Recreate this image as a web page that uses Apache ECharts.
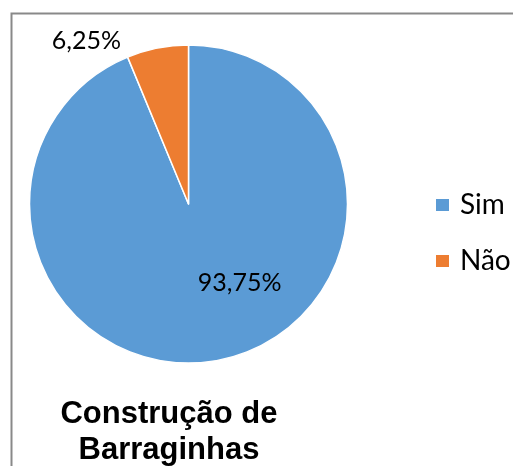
<!DOCTYPE html>
<html>
<head>
<meta charset="utf-8">
<script src="https://cdn.jsdelivr.net/npm/echarts@6/dist/echarts.min.js"></script>
<style>
  html, body { margin: 0; padding: 0; background: #fff; }
  #chart { width: 513px; height: 466px; }
</style>
</head>
<body>
<div id="chart"></div>
<script>
// data
var categories = ['Sim', 'Não']
var values = [93.75, 6.25]
var colors = ['#5B9BD5', '#ED7D31']
// per-slice label nudges (Excel puts them off the default spot)
var labelOffsets = [[35, -2], [-86, -82]]

var chart = echarts.init(document.getElementById('chart'))

var seriesData = categories.map(function (name, i) {
  return {
    name: name,
    value: values[i],
    itemStyle: { color: colors[i] },
    label: { offset: labelOffsets[i] }
  }
})

chart.setOption({
  animation: false,
  graphic: [
    {
      type: 'rect',
      left: 9,
      top: 11,
      shape: { width: 520, height: 470 },
      style: { fill: 'none', stroke: '#898989', lineWidth: 2 },
      silent: true
    }
  ],
  title: {
    text: 'Construção de\nBarraginhas',
    left: 169,
    top: 396,
    textAlign: 'center',
    textStyle: {
      fontFamily: 'Liberation Sans',
      fontWeight: 'bold',
      fontSize: 31,
      lineHeight: 36,
      color: '#000'
    },
    padding: 0
  },
  legend: {
    orient: 'vertical',
    left: 434,
    top: 191,
    padding: 0,
    icon: 'rect',
    itemWidth: 15,
    itemHeight: 14,
    itemGap: 28,
    data: categories,
    textStyle: {
      fontFamily: 'Lato',
      fontSize: 28,
      lineHeight: 20,
      color: '#000',
      padding: [0, 0, 0, 5]
    }
  },
  series: [
    {
      type: 'pie',
      center: [188.5, 204],
      radius: [0, 159],
      startAngle: 90,
      clockwise: true,
      itemStyle: { borderColor: '#fff', borderWidth: 1.5 },
      label: {
        show: true,
        position: 'inside',
        fontFamily: 'Lato',
        fontSize: 25,
        color: '#000',
        formatter: function (p) {
          return p.value.toFixed(2).replace('.', ',') + '%'
        }
      },
      labelLine: { show: false },
      emphasis: { disabled: true },
      data: seriesData
    }
  ]
})
</script>
</body>
</html>
